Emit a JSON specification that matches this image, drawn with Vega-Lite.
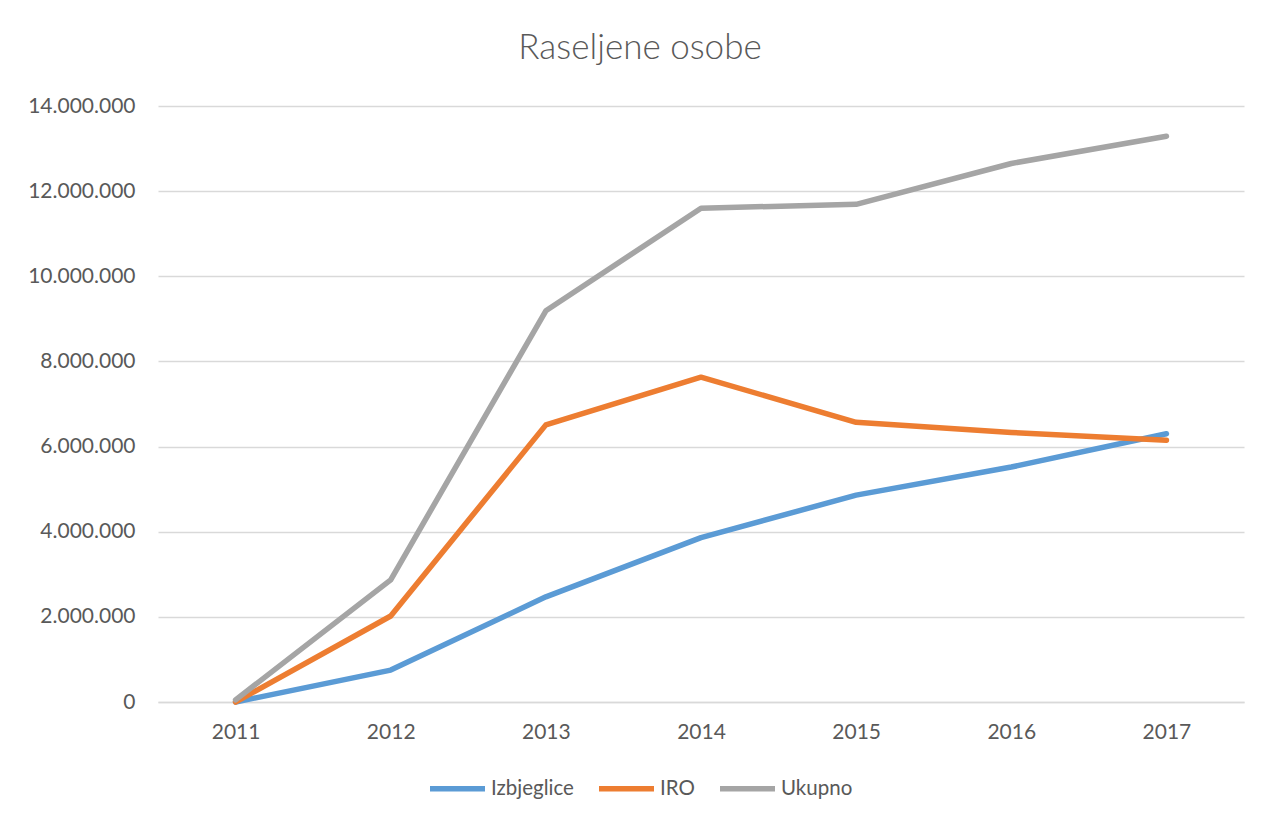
{
  "$schema": "https://vega.github.io/schema/vega-lite/v6.json",
  "autosize": {"type": "none"},
  "width": 1086,
  "height": 596,
  "padding": {"left": 158, "top": 106, "right": 30, "bottom": 117},
  "background": "white",
  "config": {
    "locale": {"number": {"decimal": ",", "thousands": ".", "grouping": [3], "currency": ["", ""]}},
    "font": "Lato",
    "view": {"stroke": null}
  },
  "title": {
    "text": "Raseljene osobe",
    "fontSize": 35,
    "fontWeight": 300,
    "color": "#595959",
    "font": "Lato",
    "anchor": "middle",
    "dx": -61,
    "baseline": "alphabetic",
    "offset": 1
  },
  "data": {
    "values": [
      {"year": "2011", "series": "Izbjeglice", "value": 0},
      {"year": "2012", "series": "Izbjeglice", "value": 750000},
      {"year": "2013", "series": "Izbjeglice", "value": 2470000},
      {"year": "2014", "series": "Izbjeglice", "value": 3860000},
      {"year": "2015", "series": "Izbjeglice", "value": 4860000},
      {"year": "2016", "series": "Izbjeglice", "value": 5520000},
      {"year": "2017", "series": "Izbjeglice", "value": 6300000},
      {"year": "2011", "series": "IRO", "value": 0},
      {"year": "2012", "series": "IRO", "value": 2020000},
      {"year": "2013", "series": "IRO", "value": 6510000},
      {"year": "2014", "series": "IRO", "value": 7630000},
      {"year": "2015", "series": "IRO", "value": 6570000},
      {"year": "2016", "series": "IRO", "value": 6330000},
      {"year": "2017", "series": "IRO", "value": 6150000},
      {"year": "2011", "series": "Ukupno", "value": 50000},
      {"year": "2012", "series": "Ukupno", "value": 2870000},
      {"year": "2013", "series": "Ukupno", "value": 9190000},
      {"year": "2014", "series": "Ukupno", "value": 11600000},
      {"year": "2015", "series": "Ukupno", "value": 11690000},
      {"year": "2016", "series": "Ukupno", "value": 12650000},
      {"year": "2017", "series": "Ukupno", "value": 13290000}
    ]
  },
  "mark": {"type": "line", "strokeWidth": 5.5, "strokeCap": "round", "strokeJoin": "round"},
  "encoding": {
    "x": {
      "field": "year",
      "type": "ordinal",
      "scale": {"type": "point", "padding": 0.5},
      "axis": {
        "title": null,
        "labelAngle": 0,
        "labelFontSize": 21,
        "labelColor": "#595959",
        "labelFont": "Lato",
        "labelPadding": 19,
        "ticks": false,
        "domainColor": "#d9d9d9",
        "domainWidth": 1.5,
        "grid": false
      }
    },
    "y": {
      "field": "value",
      "type": "quantitative",
      "scale": {"domain": [0, 14000000], "nice": false},
      "axis": {
        "title": null,
        "values": [0, 2000000, 4000000, 6000000, 8000000, 10000000, 12000000, 14000000],
        "format": ",d",
        "labelFontSize": 21,
        "labelColor": "#595959",
        "labelFont": "Lato",
        "labelPadding": 23,
        "ticks": false,
        "domain": false,
        "grid": true,
        "gridColor": "#d9d9d9",
        "gridWidth": 1.5
      }
    },
    "color": {
      "field": "series",
      "type": "nominal",
      "scale": {"domain": ["Izbjeglice", "IRO", "Ukupno"], "range": ["#5B9BD5", "#ED7D31", "#A5A5A5"]},
      "legend": {
        "title": null,
        "orient": "none",
        "direction": "horizontal",
        "legendX": 269,
        "legendY": 652,
        "symbolType": "stroke",
        "symbolSize": 3025,
        "symbolStrokeWidth": 5.5,
        "labelFontSize": 20.5,
        "labelColor": "#595959",
        "labelFont": "Lato",
        "labelOffset": 3,
        "columnPadding": 14
      }
    }
  }
}
